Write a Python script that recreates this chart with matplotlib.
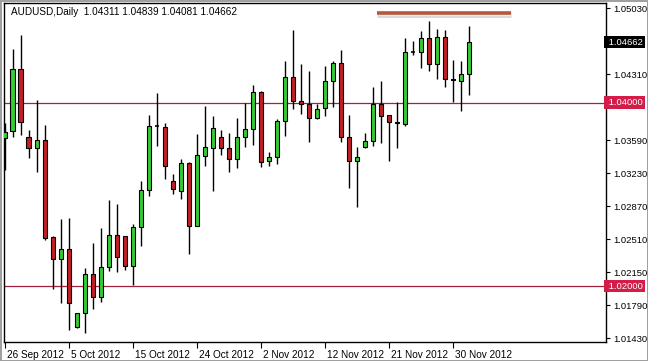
import matplotlib
matplotlib.use("Agg")
import matplotlib.pyplot as plt
import matplotlib.transforms as mtransforms
from matplotlib.patches import Rectangle

plt.rcParams["font.family"] = ["Liberation Sans", "DejaVu Sans"]

# AUDUSD daily candles, 26 Sep 2012 .. 3 Dec 2012
header = "AUDUSD,Daily  1.04311 1.04839 1.04081 1.04662"

opens = [1.03612, 1.03691, 1.04364, 1.03629, 1.03503, 1.03593, 1.02538, 1.02292, 1.02401, 1.01550,
         1.01702, 1.02128, 1.01877, 1.02204, 1.02557, 1.02546, 1.02222, 1.02641, 1.03048, 1.03746,
         1.03732, 1.03146, 1.03040, 1.03339, 1.02658, 1.03422, 1.03503, 1.03629, 1.03503, 1.03383,
         1.03623, 1.03710, 1.04120, 1.03367, 1.03404, 1.03800, 1.04277, 1.04022, 1.03983, 1.03830,
         1.03939, 1.04242, 1.04436, 1.03629, 1.03367, 1.03513, 1.03585, 1.03986, 1.03866, 1.03793,
         1.03768, 1.04556, 1.04556, 1.04703, 1.04419, 1.04714, 1.04262, 1.04240, 1.04311]
highs = [1.03775, 1.04583, 1.04739, 1.03702, 1.04029, 1.03757, 1.02545, 1.02728, 1.02739, 1.01709,
         1.02193, 1.02466, 1.02630, 1.02938, 1.02895, 1.02550, 1.02677, 1.03146, 1.03866, 1.04109,
         1.03775, 1.03222, 1.03383, 1.03356, 1.03659, 1.03964, 1.03855, 1.03702, 1.03666, 1.03830,
         1.03993, 1.04193, 1.04131, 1.03465, 1.03819, 1.04458, 1.04793, 1.04422, 1.04346, 1.03986,
         1.04400, 1.04455, 1.04575, 1.03866, 1.03520, 1.03666, 1.04168, 1.04240, 1.03870, 1.04011,
         1.04703, 1.04676, 1.04786, 1.04895, 1.04801, 1.04793, 1.04466, 1.04458, 1.04839]
lows = [1.03266, 1.03623, 1.03648, 1.03393, 1.03247, 1.02502, 1.01964, 1.01811, 1.01520, 1.01539,
        1.01491, 1.01746, 1.01829, 1.02167, 1.02156, 1.02175, 1.02011, 1.02437, 1.02982, 1.03528,
        1.03164, 1.03004, 1.02949, 1.02349, 1.02650, 1.03309, 1.03040, 1.03429, 1.03247, 1.03284,
        1.03520, 1.03539, 1.03302, 1.03313, 1.03331, 1.03637, 1.03928, 1.03877, 1.03575, 1.03822,
        1.03855, 1.03956, 1.03575, 1.03066, 1.02865, 1.03503, 1.03528, 1.03564, 1.03367, 1.03503,
        1.03746, 1.04520, 1.04375, 1.04349, 1.04255, 1.04168, 1.04011, 1.03913, 1.04081]
closes = [1.03684, 1.04364, 1.03786, 1.03503, 1.03593, 1.02521, 1.02292, 1.02401, 1.01818, 1.01702,
          1.02128, 1.01877, 1.02204, 1.02557, 1.02313, 1.02222, 1.02641, 1.03048, 1.03746, 1.03740,
          1.03313, 1.03055, 1.03339, 1.02658, 1.03429, 1.03513, 1.03721, 1.03503, 1.03383, 1.03623,
          1.03710, 1.04120, 1.03356, 1.03404, 1.03800, 1.04277, 1.04022, 1.03983, 1.03830, 1.03928,
          1.04242, 1.04436, 1.03629, 1.03367, 1.03404, 1.03585, 1.03986, 1.03855, 1.03793, 1.03775,
          1.04556, 1.04560, 1.04703, 1.04419, 1.04714, 1.04262, 1.04251, 1.04313, 1.04662]

date_ticks = [0, 8, 16, 24, 32, 40, 48, 56]
date_labels = ["26 Sep 2012", "5 Oct 2012", "15 Oct 2012", "24 Oct 2012",
               "2 Nov 2012", "12 Nov 2012", "21 Nov 2012", "30 Nov 2012"]
price_ticks = [1.05030, 1.04670, 1.04310, 1.03950, 1.03590, 1.03230,
               1.02870, 1.02510, 1.02150, 1.01790, 1.01430]
# tick labels hidden under the price boxes
hidden_ticks = [1.04670, 1.03950]
levels = [1.04000, 1.02000]
resistance = 1.04984
resistance_span = (46.5, 63.2)

BULL = "#36cc36"
BEAR = "#c41e26"
LEVEL = "#a3203e"
FS = 6.8

fig = plt.figure(figsize=(6.48, 3.61), dpi=100)
fig.patch.set_facecolor("white")
ax = fig.add_axes([4 / 648, 1 - 342 / 361, 602 / 648, 339 / 361])
ax.set_xlim(-0.1, 75.1)
ax.set_ylim(1.01389, 1.05088)

# support / resistance levels
for lv in levels:
    ax.axhline(lv, color=LEVEL, lw=0.9, zorder=1)

# drawn trend line with a soft shadow
ax.plot(resistance_span, [resistance - 0.00028] * 2, color="#d8d8d8", lw=3.5,
        solid_capstyle="butt", zorder=1)
ax.plot([resistance_span[0] + 0.2, resistance_span[1] + 0.2], [resistance - 0.00018] * 2,
        color="#ececec", lw=3, solid_capstyle="butt", zorder=1)
ax.plot(resistance_span, [resistance] * 2, color="#b4583c", lw=2.6,
        solid_capstyle="butt", zorder=2)

w = 0.58
for i in range(len(opens)):
    o, h, l, c = opens[i], highs[i], lows[i], closes[i]
    ax.vlines(i, l, h, color="black", lw=1, zorder=3)
    if abs(c - o) < 0.00008:
        ax.hlines(o, i - w / 2, i + w / 2, color="black", lw=1.2, zorder=4)
        continue
    col = BULL if c > o else BEAR
    ax.add_patch(Rectangle((i - w / 2, min(o, c)), w, abs(c - o),
                           facecolor=col, edgecolor="black", lw=0.8, zorder=4))

# axes styling
for side in ["top", "bottom", "left", "right"]:
    ax.spines[side].set_linewidth(1)
    ax.spines[side].set_color("black")
ax.yaxis.tick_right()
ax.set_yticks(price_ticks)
ax.set_yticklabels(["" if p in hidden_ticks else "%.5f" % p for p in price_ticks], fontsize=FS)
ax.set_xticks(date_ticks)
ax.set_xticklabels(date_labels, fontsize=FS + 0.4, ha="left")
ax.tick_params(axis="x", direction="out", length=4, width=0.8, pad=1.5)
ax.tick_params(axis="y", direction="out", length=3, width=0.8, pad=2.5)

# x labels sit just right of their tick
offset = mtransforms.ScaledTranslation(2 / 100, 0, fig.dpi_scale_trans)
for lab in ax.get_xticklabels():
    lab.set_transform(lab.get_transform() + offset)

# price boxes on the right axis
def price_box(y, fc):
    ax.text(1.0, y, " %.5f" % y, transform=ax.get_yaxis_transform(), fontsize=FS,
            color="white", va="center", ha="left", clip_on=False, zorder=10,
            bbox=dict(boxstyle="square,pad=0.2", fc=fc, ec="none"))

price_box(closes[-1], "black")
for lv in levels:
    price_box(lv, "#d41c48")

ax.text(0.011, 0.988, header, transform=ax.transAxes, fontsize=7.2,
        va="top", ha="left")

fig.patch.set_edgecolor("#a0a0a0")
fig.patch.set_linewidth(2)
fig.savefig("out.png", dpi=100, facecolor="white", edgecolor=fig.get_edgecolor())
